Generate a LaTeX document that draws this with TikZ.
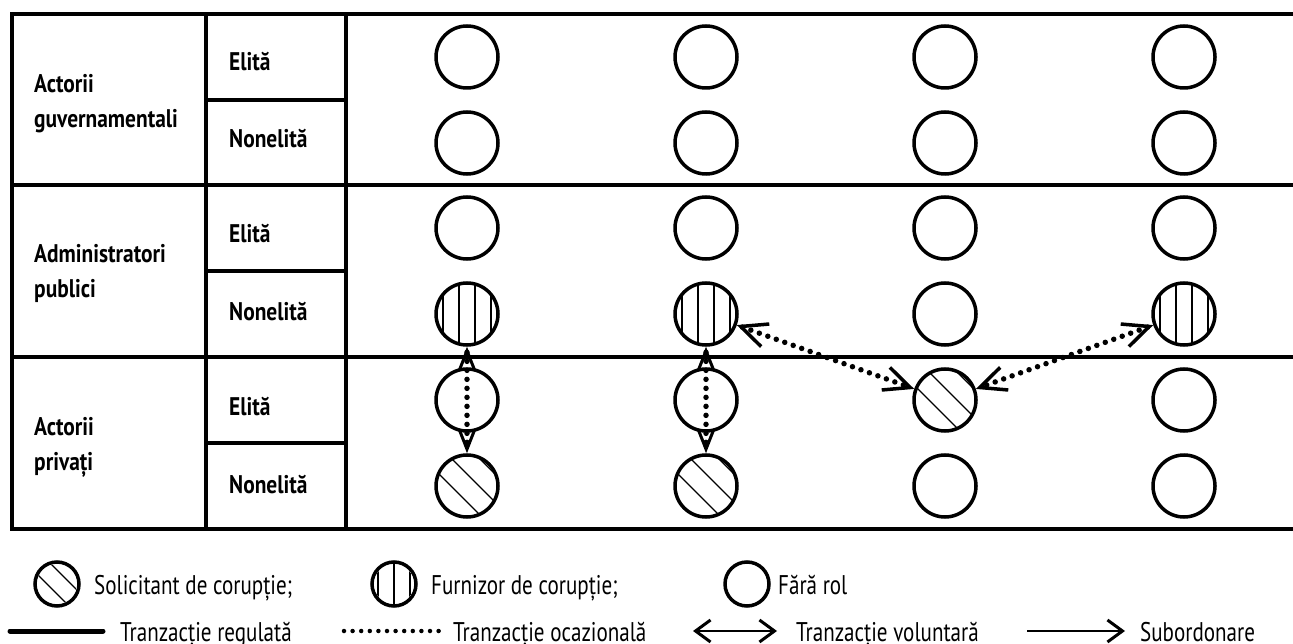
\documentclass[tikz,border=0pt]{standalone}
\usepackage{fontspec}
\setmainfont{PT Sans}[FakeStretch=0.84]
\newfontfamily\keyfont{PT Sans}[FakeStretch=0.78]
\usetikzlibrary{arrows.meta}

% hatching inside a circular node: vertical strokes
\newcommand{\verthatch}[3]{%
  \begin{scope}
    \clip (#1.center) circle[radius=#2];
    \foreach \d in {#3}
      \draw[hatchline] ([shift={(\d,-60)}]#1.center) -- ++(0,120);
  \end{scope}}
% hatching inside a circular node: strokes falling to the right
\newcommand{\diaghatch}[3]{%
  \begin{scope}
    \clip (#1.center) circle[radius=#2];
    \foreach \d in {#3}
      \draw[hatchline] ([shift={(-60,-60+\d)}]#1.center) -- ++(120,120);
  \end{scope}}

\begin{document}
\begin{tikzpicture}[x=1pt,y=-1pt,
  gridline/.style={line width=4pt},
  rowlabel/.style={anchor=base west, inner sep=0pt, font=\fontsize{25.5}{30}\selectfont\bfseries},
  keytext/.style={anchor=base west, inner sep=0pt, font=\keyfont\fontsize{27}{30}\selectfont},
  role/.style={circle, draw, line width=3.5pt, minimum size=62pt, inner sep=0pt},
  keyrole/.style={circle, draw, line width=3.5pt, minimum size=44pt, inner sep=0pt},
  hatchline/.style={line width=1.3pt},
  dottedlink/.style={line width=5.5pt, line cap=round, dash pattern=on 0pt off 9pt},
  smallbarb/.tip={Straight Barb[length=19pt,width=15pt,line width=3pt]},
  bigbarb/.tip={Straight Barb[length=26pt,width=24pt,line width=3.5pt]},
  keybarb/.tip={Straight Barb[length=15pt,width=22pt,line width=3pt]}]

\useasboundingbox (0,0) rectangle (1293,644);

% table frame and rules
\draw[gridline] (1293,14) -- (12,14) -- (12,529) -- (1293,529);
\draw[gridline] (12,185) -- (1293,185);
\draw[gridline] (12,357) -- (1293,357);
\draw[gridline] (206,14) -- (206,529);
\draw[gridline] (346,14) -- (346,529);
\draw[gridline] (206,100) -- (346,100);
\draw[gridline] (206,271) -- (346,271);
\draw[gridline] (206,443) -- (346,443);

% group labels
\node[rowlabel] (g1a) at (34,93) {Actorii};
\node[rowlabel] (g1b) at (34,128) {guvernamentali};
\node[rowlabel] (g2a) at (34,263) {Administratori};
\node[rowlabel] (g2b) at (34,298) {publici};
\node[rowlabel] (g3a) at (34,435) {Actorii};
\node[rowlabel] (g3b) at (34,470) {privați};

% level labels
\node[rowlabel] (l1) at (229,71) {Elită};
\node[rowlabel] (l2) at (229,148) {Nonelită};
\node[rowlabel] (l3) at (229,243) {Elită};
\node[rowlabel] (l4) at (229,320) {Nonelită};
\node[rowlabel] (l5) at (229,415) {Elită};
\node[rowlabel] (l6) at (229,493) {Nonelită};

% role circles
\foreach \r/\y in {1/57,2/143,3/228,4/314,5/400,6/486}
  \foreach \c/\x in {1/467,2/706,3/945,4/1184}
    \node[role] (c-\r-\c) at (\x,\y) {};

\verthatch{c-4-1}{30pt}{-24,-8,8,24}
\verthatch{c-4-2}{30pt}{-24,-8,8,24}
\verthatch{c-4-4}{30pt}{-24,-8,8,24}
\diaghatch{c-5-3}{30pt}{-40,-12,16,44}
\diaghatch{c-6-1}{30pt}{-40,-12,16,44}
\diaghatch{c-6-2}{30pt}{-40,-12,16,44}

% transactions
\draw[dottedlink, smallbarb-smallbarb] (c-4-1) -- (c-6-1);
\draw[dottedlink, smallbarb-smallbarb] (c-4-2) -- (c-6-2);
\draw[dottedlink, bigbarb-bigbarb] (c-4-2) -- (c-5-3);
\draw[dottedlink, bigbarb-bigbarb] (c-4-4) -- (c-5-3);

% key: roles
\node[keyrole] (k-sol) at (57,584) {};
\diaghatch{k-sol}{20pt}{-14,10}
\node[keytext] (t-sol) at (94,594) {Solicitant de corupție;};
\node[keyrole] (k-fur) at (394,584) {};
\verthatch{k-fur}{20pt}{-16,0,16}
\node[keytext] (t-fur) at (431,594) {Furnizor de corupție;};
\node[keyrole] (k-far) at (747,584) {};
\node[keytext] (t-far) at (778,594) {Fără rol};

% key: transactions
\coordinate (k1a) at (10,631);
\coordinate (k1b) at (103,631);
\draw[line width=5pt, line cap=round] (k1a) -- (k1b);
\node[keytext] (t-reg) at (120,641) {Tranzacție regulată};
\coordinate (k2a) at (344,631);
\coordinate (k2b) at (439,631);
\draw[line width=4.5pt, line cap=round, dash pattern=on 0pt off 8.6pt] (k2a) -- (k2b);
\node[keytext] (t-oca) at (453,641) {Tranzacție ocazională};
\coordinate (k3a) at (693,631);
\coordinate (k3b) at (777,631);
\draw[line width=1.5pt, keybarb-keybarb] (k3a) -- (k3b);
\node[keytext] (t-vol) at (796,641) {Tranzacție voluntară};
\coordinate (k4a) at (1027,631);
\coordinate (k4b) at (1125,631);
\draw[line width=1.5pt, -keybarb] (k4a) -- (k4b);
\node[keytext] (t-sub) at (1140,641) {Subordonare};

\end{tikzpicture}
\end{document}
